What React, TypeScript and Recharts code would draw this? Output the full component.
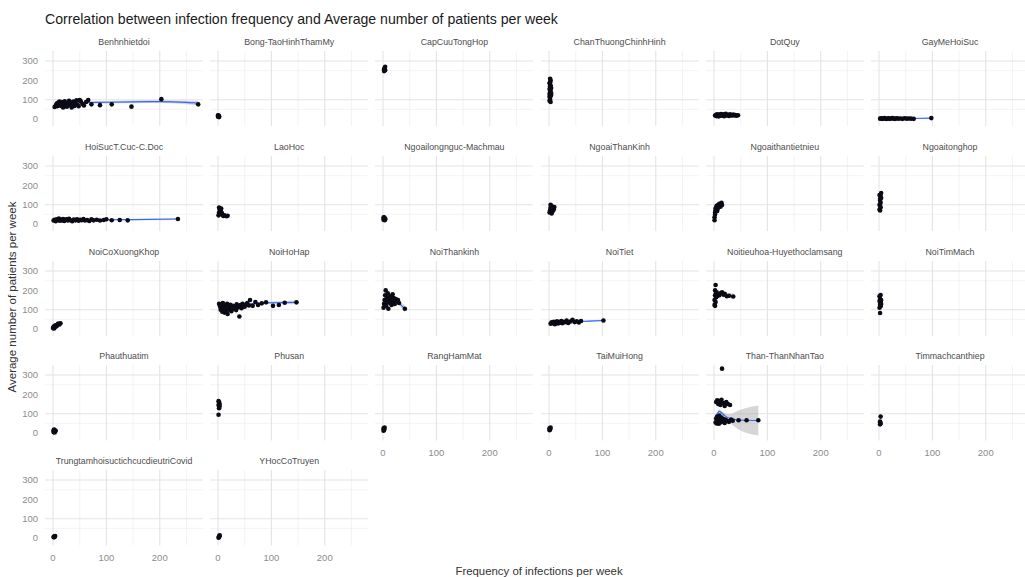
import React from 'react';
import { ComposedChart, Scatter, Line, Area, XAxis, YAxis, CartesianGrid } from 'recharts';

// facet names, in ggplot order
const facetNames = [
  'Benhnhietdoi', 'Bong-TaoHinhThamMy', 'CapCuuTongHop', 'ChanThuongChinhHinh', 'DotQuy', 'GayMeHoiSuc',
  'HoiSucT.Cuc-C.Doc', 'LaoHoc', 'Ngoailongnguc-Machmau', 'NgoaiThanKinh', 'Ngoaithantietnieu', 'Ngoaitonghop',
  'NoiCoXuongKhop', 'NoiHoHap', 'NoiThankinh', 'NoiTiet', 'Noitieuhoa-Huyethoclamsang', 'NoiTimMach',
  'Phauthuatim', 'Phusan', 'RangHamMat', 'TaiMuiHong', 'Than-ThanNhanTao', 'Timmachcanthiep',
  'TrungtamhoisuctichcucdieutriCovid', 'YHocCoTruyen',
];

const xTicks = [0, 100, 200];
const yTicks = [0, 100, 200, 300];
const minorTicks = [50, 150, 250];

// points: [frequency, avg patients]
const benhnhietdoiPts = [
  [3, 62], [5, 70], [7, 80], [8, 66], [10, 85], [11, 74], [12, 90], [14, 78], [15, 68], [16, 88],
  [18, 82], [19, 60], [20, 75], [22, 92], [23, 84], [25, 70], [26, 64], [28, 80], [30, 95], [31, 72],
  [33, 86], [35, 60], [36, 78], [38, 90], [40, 68], [42, 82], [44, 97], [46, 74], [48, 66], [50, 98],
  [52, 92], [55, 78], [58, 70], [62, 88], [66, 98], [72, 76], [88, 72], [110, 76], [147, 64], [203, 103], [272, 76],
];
const bongPts = [[0, 12], [1, 18], [1, 15], [2, 10], [0, 20], [2, 14]];
const capCuuPts = [[2, 248], [3, 255], [3, 262], [4, 270], [2, 258], [4, 252]];
const chanThuongPts = [
  [1, 95], [2, 110], [1, 130], [3, 150], [2, 170], [1, 185], [3, 200], [2, 208], [4, 160], [3, 120],
  [2, 140], [1, 155], [4, 135], [3, 175], [2, 100], [1, 115], [4, 125], [2, 190], [3, 88],
];
const dotQuyPts = [
  [2, 18], [4, 22], [5, 15], [6, 25], [8, 20], [9, 14], [10, 23], [12, 19], [13, 26], [15, 17],
  [16, 21], [18, 24], [19, 15], [21, 20], [22, 27], [24, 18], [26, 22], [28, 16], [30, 24], [32, 20],
  [34, 18], [36, 23], [38, 19], [40, 21], [42, 17], [45, 20],
];
const gayMePts = [
  [2, 2], [4, 4], [6, 1], [8, 3], [10, 5], [12, 2], [14, 0], [16, 3], [18, 4], [20, 1], [23, 3], [25, 5],
  [28, 2], [30, 1], [33, 4], [36, 2], [40, 3], [44, 1], [48, 4], [52, 2], [56, 3], [60, 2], [65, 1], [98, 5],
];
const hoiSucPts = [
  [1, 18], [3, 22], [5, 15], [7, 25], [9, 20], [11, 28], [13, 17], [15, 23], [17, 19], [19, 26],
  [21, 16], [23, 21], [25, 24], [28, 18], [30, 27], [33, 20], [36, 15], [39, 23], [42, 19], [45, 25],
  [48, 17], [51, 22], [54, 20], [57, 26], [60, 18], [64, 21], [68, 16], [72, 24], [76, 19], [82, 22],
  [88, 18], [95, 21], [100, 25], [110, 20], [125, 21], [140, 19], [234, 26],
];
const laoHocPts = [[1, 45], [2, 60], [3, 75], [4, 52], [5, 68], [6, 80], [2, 85], [7, 58], [8, 48], [10, 42], [12, 45], [16, 40], [18, 43]];
const longNgucPts = [[1, 22], [2, 30], [3, 26], [2, 35], [4, 28], [1, 33], [3, 20], [4, 24]];
const ngoaiThanKinhPts = [[1, 60], [2, 72], [3, 85], [4, 95], [5, 78], [6, 90], [7, 68], [8, 82], [9, 75], [3, 100], [5, 55], [10, 88]];
const tietNieuPts = [
  [1, 20], [1, 35], [2, 60], [3, 72], [4, 85], [5, 95], [6, 68], [7, 80], [8, 100], [10, 105],
  [12, 90], [14, 110], [15, 98], [2, 50], [3, 80],
];
const ngoaiTongHopPts = [[1, 75], [2, 95], [3, 110], [2, 130], [1, 150], [3, 145], [4, 160], [2, 120], [1, 100], [3, 85], [4, 135], [2, 70]];
const coXuongKhopPts = [[0, 5], [1, 10], [2, 14], [3, 8], [4, 18], [5, 12], [6, 20], [7, 16], [8, 22], [9, 25], [10, 28], [12, 24], [14, 30], [2, 3]];
const hoHapPts = [
  [2, 130], [4, 115], [5, 100], [6, 125], [8, 90], [9, 135], [10, 110], [12, 85], [13, 120], [14, 105],
  [16, 95], [17, 130], [18, 78], [20, 115], [22, 100], [23, 125], [25, 92], [26, 110], [28, 120], [30, 105],
  [32, 115], [34, 98], [35, 128], [37, 112], [39, 118], [40, 65], [42, 124], [44, 108], [46, 130], [48, 120],
  [50, 115], [53, 128], [55, 135], [58, 122], [60, 150], [65, 120], [70, 140], [75, 125], [82, 133], [90, 138],
  [103, 120], [114, 124], [125, 136], [147, 138],
];
const thanKinhPts = [
  [1, 110], [2, 130], [3, 150], [4, 175], [5, 200], [6, 120], [7, 160], [8, 140], [9, 185], [10, 105],
  [11, 155], [12, 170], [13, 135], [14, 145], [15, 165], [16, 125], [17, 150], [18, 180], [19, 140], [20, 160],
  [22, 130], [24, 155], [26, 145], [28, 150], [30, 135], [41, 105],
];
const noiTietPts = [
  [3, 28], [5, 35], [7, 30], [9, 38], [11, 25], [13, 32], [15, 40], [17, 29], [19, 36], [21, 33],
  [23, 42], [25, 30], [27, 38], [30, 35], [33, 44], [36, 31], [40, 39], [44, 48], [48, 36], [52, 40],
  [56, 34], [60, 42], [102, 44],
];
const tieuHoaPts = [
  [1, 125], [1, 150], [2, 175], [2, 200], [3, 228], [3, 140], [4, 165], [5, 190], [2, 120], [4, 185],
  [6, 170], [8, 180], [10, 175], [12, 185], [15, 190], [18, 178], [20, 182], [24, 170], [28, 172], [36, 168],
];
const timMachPts = [[1, 110], [2, 125], [3, 140], [2, 155], [1, 170], [3, 176], [4, 150], [2, 135], [3, 118], [1, 145], [2, 83], [4, 130]];
const phauThuatPts = [[1, 5], [2, 10], [3, 15], [4, 8], [2, 18], [5, 12], [3, 3], [1, 13]];
const phuSanPts = [[1, 95], [2, 135], [3, 150], [1, 165], [2, 160], [3, 140], [2, 128], [1, 145]];
const rangHamPts = [[1, 12], [2, 20], [3, 28], [1, 24], [2, 16]];
const taiMuiPts = [[1, 15], [2, 22], [3, 28], [2, 18], [1, 25]];
const thanNhanTaoPts = [
  [15, 333], [4, 160], [6, 170], [8, 150], [10, 165], [12, 145], [14, 172], [17, 155], [20, 140], [23, 160],
  [26, 150], [30, 145], [3, 55], [4, 75], [5, 50], [6, 85], [7, 60], [8, 70], [9, 48], [10, 90],
  [11, 65], [12, 55], [14, 80], [16, 60], [18, 72], [20, 52], [22, 68], [25, 62], [28, 58], [32, 70],
  [35, 64], [46, 66], [61, 66], [83, 66],
];
const canThiepPts = [[2, 45], [3, 50], [2, 60], [3, 85], [2, 55]];
const covidPts = [[1, 5], [2, 8], [3, 6], [4, 10], [2, 4]];
const yHocPts = [[1, 2], [2, 8], [3, 14], [2, 5], [3, 10]];

// loess fits: [x, fit, se half-width]
const benhnhietdoiFit = [[3, 78, 8], [25, 82, 4], [50, 85, 4], [100, 87, 6], [150, 89, 7], [200, 90, 7], [250, 86, 9], [272, 82, 12]];
const chanThuongFit = [[1, 135, 10], [2, 140, 8], [3, 145, 8], [4, 140, 10]];
const dotQuyFit = [[2, 20, 2], [15, 20, 1], [30, 21, 1], [45, 20, 2]];
const gayMeFit = [[2, 2, 1], [30, 2.5, 1], [60, 3, 1], [98, 4.5, 2]];
const hoiSucFit = [[1, 19, 2], [50, 21, 1], [100, 22, 2], [150, 23, 3], [234, 26, 5]];
const laoHocFit = [[1, 66, 6], [5, 60, 5], [10, 50, 6], [18, 42, 9]];
const ngoaiThanKinhFit = [[1, 75, 8], [5, 80, 6], [10, 84, 9]];
const tietNieuFit = [[1, 55, 12], [5, 80, 8], [10, 92, 9], [15, 100, 12]];
const ngoaiTongHopFit = [[1, 115, 12], [2, 118, 10], [3, 121, 10], [4, 124, 12]];
const hoHapFit = [[2, 118, 6], [10, 112, 4], [20, 110, 4], [35, 118, 4], [50, 126, 5], [70, 133, 6], [100, 136, 7], [147, 138, 10]];
const thanKinhFit = [[1, 148, 8], [10, 152, 5], [20, 150, 6], [28, 140, 9], [35, 120, 14], [41, 105, 20]];
const noiTietFit = [[3, 32, 2], [25, 35, 2], [50, 38, 2], [75, 41, 3], [102, 44, 5]];
const tieuHoaFit = [[1, 168, 10], [8, 172, 8], [16, 182, 9], [24, 176, 10], [36, 170, 14]];
const thanNhanTaoFit = [[3, 85, 15], [6, 100, 10], [10, 112, 10], [14, 105, 10], [20, 90, 12], [30, 75, 22], [45, 68, 48], [60, 66, 64], [83, 65, 78]];

const facetPoints = [
  benhnhietdoiPts, bongPts, capCuuPts, chanThuongPts, dotQuyPts, gayMePts,
  hoiSucPts, laoHocPts, longNgucPts, ngoaiThanKinhPts, tietNieuPts, ngoaiTongHopPts,
  coXuongKhopPts, hoHapPts, thanKinhPts, noiTietPts, tieuHoaPts, timMachPts,
  phauThuatPts, phuSanPts, rangHamPts, taiMuiPts, thanNhanTaoPts, canThiepPts,
  covidPts, yHocPts,
];
const facetFits: (number[][] | null)[] = [
  benhnhietdoiFit, null, null, chanThuongFit, dotQuyFit, gayMeFit,
  hoiSucFit, laoHocFit, null, ngoaiThanKinhFit, tietNieuFit, ngoaiTongHopFit,
  null, hoHapFit, thanKinhFit, noiTietFit, tieuHoaFit, null,
  null, null, null, null, thanNhanTaoFit, null,
  null, null,
];

// layout
const PLOT_W = 158;
const PLOT_H = 75.4;
const COL_X0 = 45;
const COL_STEP = 165.2;
const ROW_Y0 = 51;
const ROW_STEP = 104.75;
const Y_AXIS_W = 30;
const X_AXIS_H = 22;
const NCOL = 6;

const tickStyle = { fontSize: 9.5, fill: '#8c8c8c', fontFamily: 'Liberation Sans, Arial, sans-serif' };

const dot = (p: any) => <circle cx={p.cx} cy={p.cy} r={2.3} fill="#0b0b16" />;

const Panel = ({ index }: { index: number }) => {
  const col = index % NCOL;
  const row = Math.floor(index / NCOL);
  const showY = col === 0;
  const showX = index + NCOL >= facetNames.length;
  const pts = facetPoints[index].map(([x, y]) => ({ x, y }));
  const fit = facetFits[index];
  const fitData = fit ? fit.map(([x, y, se]) => ({ x, y, band: [y - se, y + se] })) : [];
  const left = COL_X0 + col * COL_STEP - (showY ? Y_AXIS_W : 0);
  const top = ROW_Y0 + row * ROW_STEP;
  const w = PLOT_W + (showY ? Y_AXIS_W : 0);
  const h = PLOT_H + (showX ? X_AXIS_H : 0);
  return (
    <div style={{ position: 'absolute', left, top, width: w, height: h }}>
      <ComposedChart width={w} height={h} data={fitData} margin={{ top: 0, right: 0, bottom: 0, left: 0 }}>
        <CartesianGrid stroke="#ececec" strokeWidth={0.6} horizontalValues={minorTicks} verticalValues={minorTicks} />
        <CartesianGrid stroke="#e4e4e4" strokeWidth={1.1} horizontalValues={yTicks} verticalValues={xTicks} />
        <XAxis
          dataKey="x" type="number" domain={[-15, 281]} ticks={xTicks} allowDataOverflow
          hide={!showX} height={X_AXIS_H} axisLine={false} tickLine={false} tickSize={0} tickMargin={9} tick={tickStyle}
        />
        <YAxis
          dataKey="y" type="number" domain={[-38, 352]} ticks={yTicks} allowDataOverflow
          hide={!showY} width={Y_AXIS_W} axisLine={false} tickLine={false} tickSize={0} tickMargin={7} tick={tickStyle}
        />
        <Scatter data={pts} shape={dot} isAnimationActive={false} />
        {fit && (
          <Area dataKey="band" type="monotone" stroke="none" fill="#999999" fillOpacity={0.4} isAnimationActive={false} />
        )}
        {fit && (
          <Line dataKey="y" type="monotone" stroke="#3366FF" strokeWidth={1.1} dot={false} isAnimationActive={false} />
        )}
      </ComposedChart>
    </div>
  );
};

const App = () => {
  return (
    <div
      style={{
        position: 'absolute', left: 0, top: 0, width: 1025, height: 577, background: '#fff',
        fontFamily: 'Liberation Sans, Arial, sans-serif', overflow: 'hidden',
      }}
    >
      <div style={{ position: 'absolute', left: 45, top: 11, fontSize: 14.1, color: '#1a1a1a', whiteSpace: 'nowrap' }}>
        Correlation between infection frequency and Average number of patients per week
      </div>
      {facetNames.map((name, i) => {
        const col = i % NCOL;
        const row = Math.floor(i / NCOL);
        return (
          <div
            key={'s' + i}
            style={{
              position: 'absolute', left: COL_X0 + col * COL_STEP, width: PLOT_W, top: ROW_Y0 + row * ROW_STEP - 15,
              textAlign: 'center', fontSize: 8.8, color: '#4d4d4d', whiteSpace: 'nowrap', lineHeight: '12px',
            }}
          >
            {name}
          </div>
        );
      })}
      {facetNames.map((_, i) => <Panel key={i} index={i} />)}
      <div
        style={{
          position: 'absolute', left: 12, top: 297, fontSize: 11.5, color: '#333', whiteSpace: 'nowrap',
          transform: 'translate(-50%, -50%) rotate(-90deg)',
        }}
      >
        Average number of patients per week
      </div>
      <div
        style={{
          position: 'absolute', left: 539, top: 571, fontSize: 11.4, color: '#333', whiteSpace: 'nowrap',
          transform: 'translate(-50%, -50%)',
        }}
      >
        Frequency of infections per week
      </div>
    </div>
  );
};

export default App;
